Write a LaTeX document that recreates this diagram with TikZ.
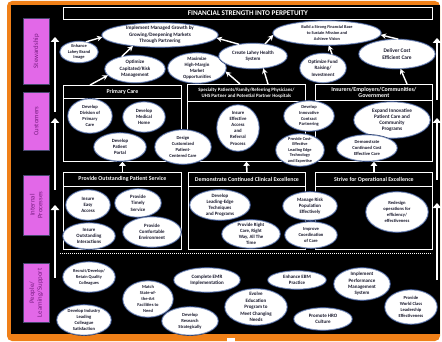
\documentclass[tikz,border=0pt]{standalone}
\usepackage{fontspec}
\setmainfont{Carlito}
\usetikzlibrary{shapes.geometric,arrows.meta}

\definecolor{frameorange}{RGB}{240,128,24}
\definecolor{orchid}{RGB}{226,104,232}
\definecolor{orchidtext}{RGB}{120,30,130}
\definecolor{goaltext}{RGB}{25,25,45}
\definecolor{goalrim}{RGB}{130,150,190}
\definecolor{goalhalo}{RGB}{35,55,105}

\tikzset{
  goal/.style={ellipse, fill=white, draw=goalrim, line width=0.6pt, inner sep=0pt,
    preaction={draw=goalhalo, line width=1.8pt}},
  fs/.style 2 args={font=\bfseries\fontsize{#1}{#2}\selectfont},
  goaltxt/.style={align=center, text=goaltext, inner sep=0pt, fs={4.9}{5.9}},
  secbox/.style={draw=white, line width=0.8pt, fill=black, inner sep=0pt, anchor=north west},
  headbox/.style={secbox, text=white, align=center, fs={5.9}{6.4}},
  perspective/.style={fill=orchid, draw={rgb,255:red,70;green,70;blue,110},
    line width=0.4pt, inner sep=0pt, anchor=north west},
  perstxt/.style={rotate=90, text=orchidtext, align=center,
    font=\fontsize{6.8}{7.6}\selectfont},
  link/.style={draw=white, line width=1.4pt, -{Stealth[length=5.5pt,width=5.5pt]}},
  climb/.style={draw=white, line width=2.8pt, -{Triangle[length=5pt,width=8.5pt]}},
  flow/.style={draw=white, line width=1.6pt, -{Triangle[length=4pt,width=6.5pt]}},
}

% objective ellipse: [text options]{name}{x,y}{width}{height}{text}
\newcommand{\goalnode}[6][]{%
  \node[goal, minimum width=#4, minimum height=#5] (#2) at (#3) {};
  \node[goaltxt, #1] (#2-t) at (#2) {#6};}

\begin{document}
\begin{tikzpicture}[x=1pt, y=-1pt]
  \useasboundingbox (0,0) rectangle (442,342);
  \fill[white] (0,0) rectangle (442,342);

  % slide frame
  \fill[frameorange, rounded corners=5pt] (7,1) rectangle (440,341);
  \fill[black] (11,5) rectangle (440,334);
  \fill[white] (227,338) rectangle (235,342);

  % perspective labels
  \node[perspective, minimum width=26, minimum height=66] (stew) at (23,18) {};
  \node[perstxt] (stew-t) at (stew) {Stewardship};
  \node[perspective, minimum width=26, minimum height=58] (cust) at (23,92) {};
  \node[perstxt] (cust-t) at (cust) {Customers};
  \node[perspective, minimum width=26, minimum height=60] (intp) at (23,175) {};
  \node[perstxt] (intp-t) at (intp) {Internal\\Processes};
  \node[perspective, minimum width=26, minimum height=59] (ppl) at (23,263) {};
  \node[perstxt] (ppl-t) at (ppl) {People/\\Learning/Support};

  % upward progress arrows on both sides
  \coordinate (l1a) at (55,278); \coordinate (l1b) at (55,205);
  \coordinate (l2a) at (55,190); \coordinate (l2b) at (55,118);
  \coordinate (l3a) at (55,112); \coordinate (l3b) at (55,37);
  \coordinate (r1a) at (437,280); \coordinate (r1b) at (437,203);
  \coordinate (r2a) at (437,180); \coordinate (r2b) at (437,118);
  \coordinate (r3a) at (437,100); \coordinate (r3b) at (437,38);
  \foreach \s in {l1,l2,l3,r1,r2,r3} \draw[climb] (\s a) -- (\s b);

  % theme header
  \node[headbox, minimum width=369, minimum height=12, fs={7.2}{8}] (fin) at (63,7) {FINANCIAL STRENGTH INTO PERPETUITY};

  % customer groups
  \node[secbox, minimum width=118, minimum height=76] (pcbox) at (63,85) {};
  \node[headbox, minimum width=118, minimum height=13] (pchead) at (63,85) {Primary Care};
  \node[secbox, minimum width=118, minimum height=77] (spbox) at (187,84) {};
  \node[headbox, minimum width=118, minimum height=17, fs={4.9}{6.2}] (sphead) at (187,84) {Specialty Patients/Family/Referring Physicians/\\UHS Partner and Potential Partner Hospitals};
  \node[secbox, minimum width=117, minimum height=77] (inbox) at (315,84) {};
  \node[headbox, minimum width=117, minimum height=16, fs={5.9}{6.6}] (inhead) at (315,84) {Insurers/Employers/Communities/\\Government};

  % internal process groups
  \node[secbox, minimum width=118, minimum height=77] (psbox) at (63,172) {};
  \node[headbox, minimum width=118, minimum height=14] (pshead) at (63,172) {Provide Outstanding Patient Service};
  \node[secbox, minimum width=117, minimum height=77] (cebox) at (188,172) {};
  \node[headbox, minimum width=117, minimum height=14] (cehead) at (188,172) {Demonstrate Continued Clinical Excellence};
  \node[secbox, minimum width=117, minimum height=77] (oebox) at (315,172) {};
  \node[headbox, minimum width=117, minimum height=14] (oehead) at (315,172) {Strive for Operational Excellence};

  \draw[flow] (pshead.north) -- (pcbox.south);
  \draw[flow] (cehead.north) -- (spbox.south);
  \draw[flow] (oehead.north) -- (inbox.south);

  % boundary of the people perspective
  \coordinate (dotl) at (60,253); \coordinate (dotr) at (432,253);
  \draw[white, line width=0.7pt, dash pattern=on 0.8pt off 1.2pt] (dotl) -- (dotr);

  % stewardship objectives
  \goalnode[fs={4.4}{5.4}]{enh}{79,52}{38}{21}{Enhance\\Lahey Brand\\Image}
  \goalnode[fs={5.1}{6.4}]{impl}{160,35}{116}{24}{Implement Managed Growth by\\Growing/Deepening Markets\\Through Partnering}
  \goalnode[fs={5}{6.4}]{optcap}{135,69}{60}{27}{Optimize\\Capitated/Risk\\Management}
  \goalnode[fs={4.8}{6}]{maxi}{197,68}{58}{30}{Maximize\\High-Margin\\Market\\Opportunities}
  \goalnode[fs={5}{6.4}]{create}{253,56}{68}{25}{Create Lahey Health\\System}
  \goalnode[fs={4.3}{6.4}]{build}{327,33}{108}{24}{Build a Strong Financial Base\\to Sustain Mission and\\Achieve Vision}
  \goalnode[fs={4.9}{6.4}]{fund}{323,68}{46}{29}{Optimize Fund\\Raising/\\Investment}
  \goalnode[fs={5.4}{7}]{deliver}{397,54}{76}{29}{Deliver Cost\\Efficient Care}

  % customer objectives
  \goalnode[fs={4.6}{6}]{divpc}{90,116}{44}{34}{Develop\\Division of\\Primary\\Care}
  \goalnode[fs={4.8}{6.2}]{medhome}{144,117}{42}{30}{Develop\\Medical\\Home}
  \goalnode[fs={4.8}{6.2}]{portal}{120,147}{52}{28}{Develop\\Patient\\Portal}
  \goalnode[fs={4.6}{6}]{design}{183,147}{56}{34}{Design\\Customized\\Patient-\\Centered Care}
  \goalnode[fs={4.8}{6.2}]{access}{238,128}{42}{46}{Insure\\Effective\\Access\\and\\Referral\\Process}
  \goalnode[fs={4.5}{5.8}]{contract}{309,116}{50}{30}{Develop\\Innovative\\Contract\\Partnering}
  \goalnode[fs={4.3}{5.5}]{tech}{300,150}{48}{32}{Provide Cost-\\Effective\\Leading Edge\\Technology\\and Expertise}
  \goalnode[fs={5.2}{6.2}]{expand}{392,120}{76}{36}{Expand Innovative\\Patient Care and\\Community\\Programs}
  \goalnode[fs={4.6}{6}]{costeff}{367,148}{60}{26}{Demonstrate\\Continued Cost\\Effective Care}

  % internal process objectives
  \goalnode[fs={4.9}{6.4}]{easy}{88,205}{44}{30}{Insure\\Easy\\Access}
  \goalnode[fs={4.9}{6.4}]{timely}{138,203}{46}{28}{Provide\\Timely\\Service}
  \goalnode[fs={4.9}{6.2}]{interact}{89,236}{52}{26}{Insure\\Outstanding\\Interactions}
  \goalnode[fs={4.9}{6.2}]{comfort}{152,232}{58}{30}{Provide\\Comfortable\\Environment}
  \goalnode[fs={4.9}{6}]{leading}{220,205}{60}{30}{Develop\\Leading-Edge\\Techniques\\and Programs}
  \goalnode[fs={4.8}{6}]{rightcare}{251,234}{58}{28}{Provide Right\\Care, Right\\Way, All The\\Time}
  \goalnode[fs={4.9}{6.2}]{risk}{310,206}{54}{28}{Manage Risk\\Population\\Effectively}
  \goalnode[fs={4.6}{6}]{coord}{311,235}{52}{26}{Improve\\Coordination\\of Care}
  \goalnode[fs={4.6}{6.2}]{redesign}{397,212}{62}{40}{Redesign\\operations for\\efficiency/\\effectiveness}

  % people / learning objectives
  \goalnode[fs={4.4}{6}]{recruit}{89,277}{52}{30}{Recruit/Develop/\\Retain Quality\\Colleagues}
  \goalnode[fs={4.5}{6}]{match}{148,299}{50}{36}{Match\\State-of-\\the-Art\\Facilities to\\Need}
  \goalnode[fs={4.6}{6.2}]{satisf}{84,320}{54}{30}{Develop Industry\\Leading\\Colleague\\Satisfaction}
  \goalnode[fs={5}{6.4}]{emr}{207,280}{66}{24}{Complete EMR\\Implementation}
  \goalnode[fs={4.6}{6.2}]{research}{190,321}{56}{28}{Develop\\Research\\Strategically}
  \goalnode[fs={5}{6.4}]{evolve}{256,307}{62}{36}{Evolve\\Education\\Program to\\Meet Changing\\Needs}
  \goalnode[fs={4.9}{6.2}]{ebm}{297,280}{58}{18}{Enhance EBM\\Practice}
  \goalnode[fs={5}{6.4}]{perf}{362,284}{56}{32}{Implement\\Performance\\Management\\System}
  \goalnode[fs={5}{6.4}]{hro}{323,319}{58}{22}{Promote HRO\\Culture}
  \goalnode[fs={4.6}{6.2}]{world}{411,307}{52}{34}{Provide\\World Class\\Leadership\\Effectiveness}

  % cause-and-effect links toward the financial theme
  \draw[link] (enh.56) -- (impl.182);
  \draw[link] (optcap.137) -- (impl.202);
  \draw[link] ([xshift=27pt]pchead.north west) -- (optcap.193);
  \draw[link] (create.140) -- (impl.357);
  \draw[link] ([xshift=53pt]sphead.north west) -- (maxi.353);
  \draw[link] ([xshift=81pt]sphead.north west) -- (create.310);
  \draw[link] (create.45) -- (build.182);
  \draw[link] (fund.56) -- (build.278);
  \draw[link] (deliver.85) -- (build.358);
  \draw[link] ([xshift=92pt]inhead.north west) -- (deliver.283);
\end{tikzpicture}
\end{document}
